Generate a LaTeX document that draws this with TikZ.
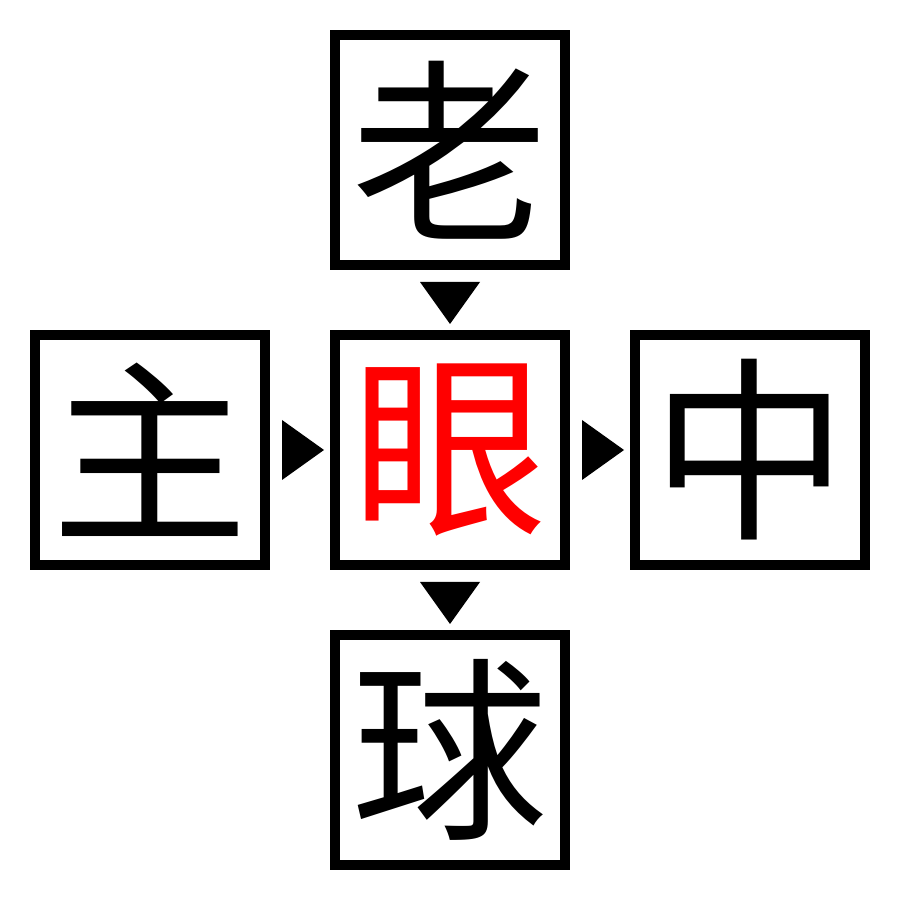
\documentclass[tikz,border=0pt]{standalone}
\usepackage{fontspec}
\newfontfamily\cjk{Noto Sans CJK SC}
\usetikzlibrary{calc}
\tikzset{
charbox/.style={draw, line width=0.1cm, minimum size=2.3cm, inner sep=0pt,
  font=\cjk\fontsize{56}{56}\selectfont},
pointer/.pic={
  \fill (-0.18,0.3) -- (0.24,0) -- (-0.18,-0.3) -- cycle;
  }
}
\begin{document}
\begin{tikzpicture}
\useasboundingbox (0,0) rectangle (9,9);
\node[charbox] (old) at (4.5,7.5) {老};
\node[charbox, text=red] (eye) at (4.5,4.5) {眼};
\node[charbox] (main) at (1.5,4.5) {主};
\node[charbox] (mid) at (7.5,4.5) {中};
\node[charbox] (ball) at (4.5,1.5) {球};
\pic[rotate=-90] at ($(old.south)!0.5!(eye.north)$) {pointer};
\pic at ($(main.east)!0.5!(eye.west)$) {pointer};
\pic at ($(eye.east)!0.5!(mid.west)$) {pointer};
\pic[rotate=-90] at ($(eye.south)!0.5!(ball.north)$) {pointer};
\end{tikzpicture}
\end{document}
